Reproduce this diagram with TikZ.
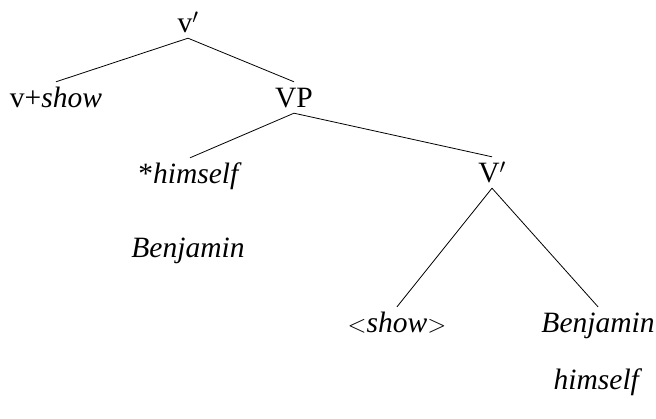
\documentclass[tikz,border=0pt]{standalone}
\usepackage{fontspec}
\setmainfont{Liberation Serif}

\begin{document}
\begin{tikzpicture}[x=1pt,y=-1pt,
    lbl/.style={anchor=base,inner sep=0pt,text height=26pt,text depth=5pt,
        font=\fontsize{29.5}{34}\selectfont},
    branch/.style={line width=0.8pt}]
    \useasboundingbox (0,0) rectangle (656,419);
    % top layer
    \node[lbl] (vbar) at (188,33) {v$'$};
    \node[lbl] (vshow) at (56,108) {v+\emph{show}};
    \node[lbl] (vp) at (294,108) {VP};
    % specifier and V-bar
    \node[lbl] (himstar) at (190,184) {*\emph{himself}};
    \node[lbl] (benjl) at (188,258) {\emph{Benjamin}};
    \node[lbl] (Vbar) at (492,183) {V$'$};
    % bottom layer
    \node[lbl] (show) at (397,333) {$<$\emph{show}$>$};
    \node[lbl] (benjr) at (598,333) {\emph{Benjamin}};
    \node[lbl] (himr) at (598,390) {\emph{himself}};

    \draw[branch] (vbar.south) -- (vshow.north);
    \draw[branch] (vbar.south) -- (vp.north);
    \draw[branch] (vp.south) -- (himstar.north);
    \draw[branch] (vp.south) -- (Vbar.north);
    \draw[branch] (Vbar.south) -- (show.north);
    \draw[branch] (Vbar.south) -- (benjr.north);
\end{tikzpicture}
\end{document}
